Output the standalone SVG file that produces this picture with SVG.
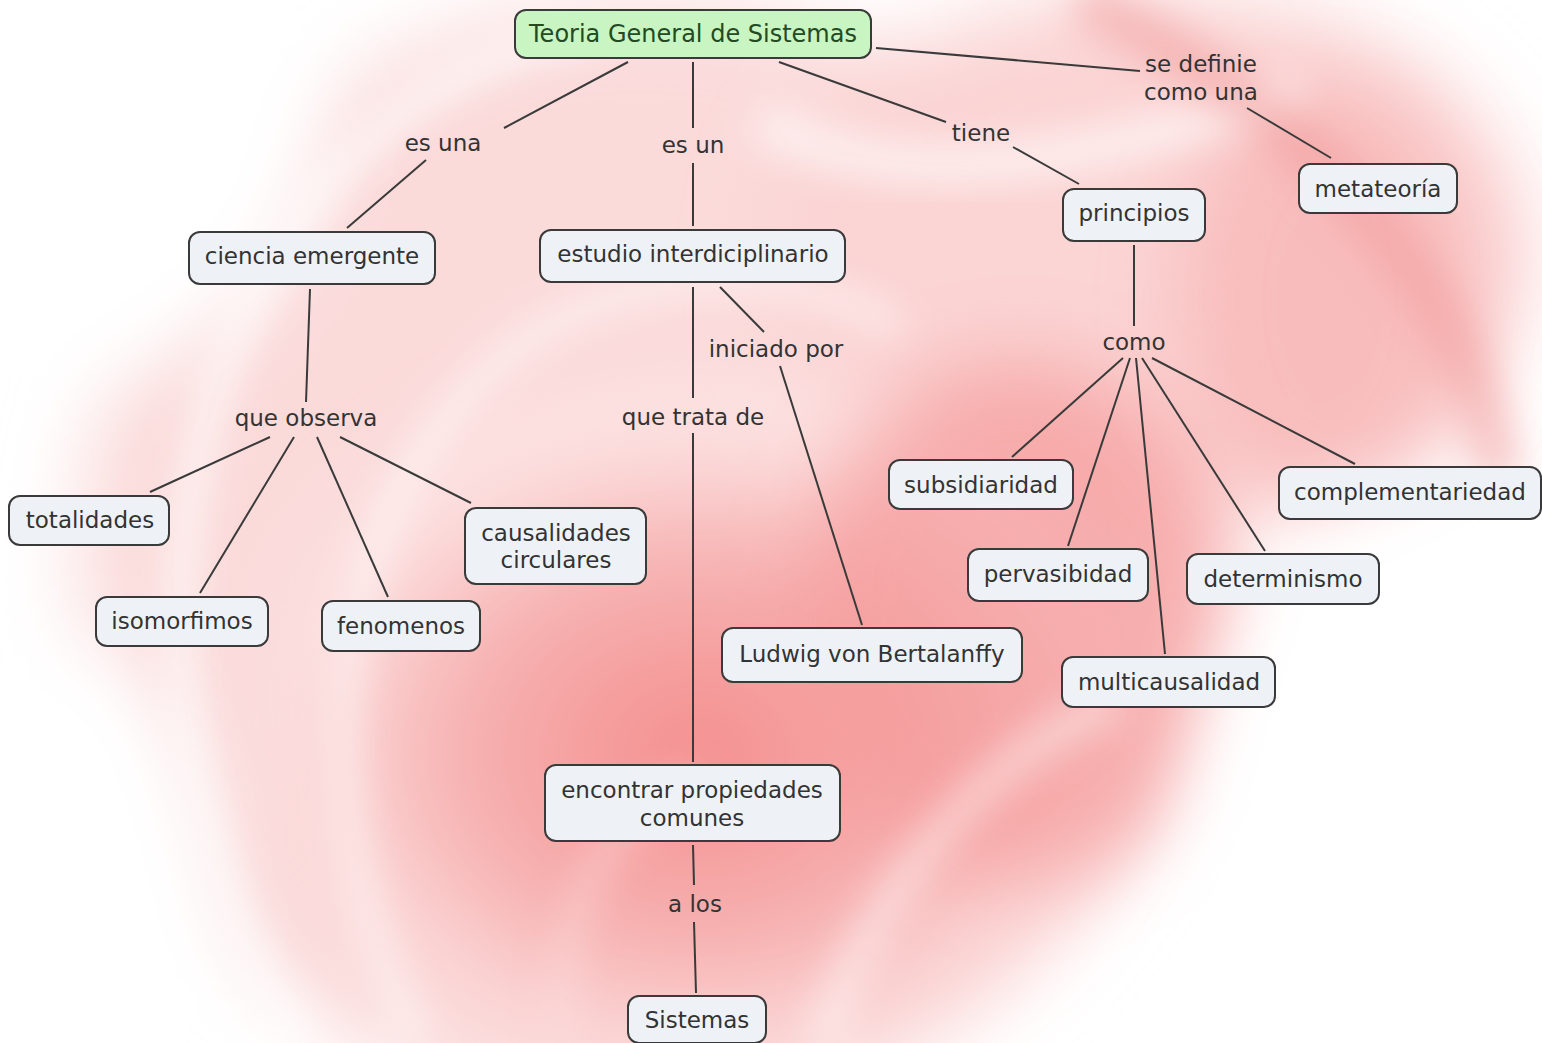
<svg xmlns="http://www.w3.org/2000/svg" width="1542" height="1043" viewBox="0 0 1542 1043">
<defs>
<filter id="blur40" x="-50%" y="-50%" width="200%" height="200%"><feGaussianBlur stdDeviation="40"/></filter>
<filter id="blur20" x="-50%" y="-50%" width="200%" height="200%"><feGaussianBlur stdDeviation="18"/></filter>
<radialGradient id="g1" cx="0.5" cy="0.55" r="0.5">
<stop offset="0" stop-color="#f48c8c"/>
<stop offset="0.6" stop-color="#f7b3b3"/>
<stop offset="1" stop-color="#fde6e6"/>
</radialGradient>
</defs>
<style>
.node rect{fill:#eef2f6;stroke:#3a3a3a;stroke-width:2}
.root rect{fill:#c9f5c2;stroke:#3a3a3a;stroke-width:2}
text{font-family:"DejaVu Sans",Verdana,sans-serif;font-size:23px;fill:#333;text-anchor:middle;dominant-baseline:central}
.root text{fill:#234a23;font-size:24px}
#connectors line{stroke:#3a3a3a;stroke-width:2}
</style>
<g id="background">
<rect width="1542" height="1043" fill="#ffffff"/>
<ellipse cx="640" cy="560" rx="560" ry="560" fill="#fbdada" filter="url(#blur40)"/>
<ellipse cx="1150" cy="250" rx="380" ry="260" fill="#fbd4d4" filter="url(#blur40)"/>
<ellipse cx="700" cy="720" rx="420" ry="330" fill="url(#g1)" filter="url(#blur40)"/>
<ellipse cx="1020" cy="620" rx="220" ry="260" fill="#f59a9a" opacity="0.7" filter="url(#blur40)"/>
<ellipse cx="1330" cy="300" rx="150" ry="220" fill="#f7adad" opacity="0.6" filter="url(#blur40)"/>
<ellipse cx="1460" cy="800" rx="260" ry="300" fill="#ffffff" filter="url(#blur40)"/>
<ellipse cx="60" cy="120" rx="260" ry="260" fill="#ffffff" filter="url(#blur40)"/>
<ellipse cx="60" cy="900" rx="150" ry="260" fill="#ffffff" filter="url(#blur40)"/>
<path d="M300 1043 C 140 800 130 420 330 180 C 420 80 520 40 600 30" fill="none" stroke="#ffffff" stroke-width="30" opacity="0.7" filter="url(#blur20)"/>
<path d="M420 1043 C 300 820 320 520 500 360 C 620 260 800 260 900 330" fill="none" stroke="#ffffff" stroke-width="26" opacity="0.55" filter="url(#blur20)"/>
<path d="M760 120 C 900 200 1100 160 1300 90" fill="none" stroke="#ffffff" stroke-width="40" opacity="0.6" filter="url(#blur20)"/>
<path d="M1080 0 C 1330 120 1470 300 1500 480" fill="none" stroke="#f19a9a" stroke-width="50" opacity="0.5" filter="url(#blur20)"/>
<path d="M820 1043 C 880 880 980 760 1120 700" fill="none" stroke="#ffffff" stroke-width="30" opacity="0.5" filter="url(#blur20)"/>
<path d="M560 1043 C 560 900 600 820 700 780" fill="none" stroke="#fde0e0" stroke-width="24" opacity="0.5" filter="url(#blur20)"/>
</g>
<g id="connectors">
<line x1="628" y1="62" x2="504" y2="128"/>
<line x1="426" y1="160" x2="347" y2="228"/>
<line x1="693" y1="62" x2="693" y2="128"/>
<line x1="693" y1="163" x2="693" y2="226"/>
<line x1="779" y1="62" x2="946" y2="122"/>
<line x1="1013" y1="147" x2="1079" y2="184"/>
<line x1="876" y1="48" x2="1140" y2="71"/>
<line x1="1247" y1="108" x2="1331" y2="158"/>
<line x1="310" y1="289" x2="306" y2="402"/>
<line x1="270" y1="437" x2="150" y2="492"/>
<line x1="294" y1="437" x2="200" y2="593"/>
<line x1="317" y1="437" x2="388" y2="597"/>
<line x1="340" y1="437" x2="471" y2="503"/>
<line x1="720" y1="287" x2="764" y2="332"/>
<line x1="780" y1="366" x2="862" y2="625"/>
<line x1="693" y1="287" x2="693" y2="398"/>
<line x1="693" y1="433" x2="693" y2="762"/>
<line x1="693" y1="845" x2="694" y2="885"/>
<line x1="694" y1="922" x2="696" y2="993"/>
<line x1="1134" y1="245" x2="1134" y2="326"/>
<line x1="1123" y1="358" x2="1012" y2="457"/>
<line x1="1130" y1="358" x2="1068" y2="546"/>
<line x1="1136" y1="358" x2="1165" y2="654"/>
<line x1="1142" y1="358" x2="1265" y2="551"/>
<line x1="1152" y1="358" x2="1355" y2="464"/>
</g>
<g id="link-labels">
<text x="443" y="143">es una</text>
<text x="693" y="145">es un</text>
<text x="981" y="133">tiene</text>
<text x="1201" y="64">se definie</text>
<text x="1201" y="92">como una</text>
<text x="306" y="418">que observa</text>
<text x="776" y="349">iniciado por</text>
<text x="693" y="417">que trata de</text>
<text x="1134" y="342">como</text>
<text x="695" y="904">a los</text>
</g>
<g id="n-teoria" class="root"><rect x="515" y="10" width="356" height="48" rx="11"/><text x="693" y="34">Teoria General de Sistemas</text></g>
<g id="n-ciencia" class="node"><rect x="189" y="232" width="246" height="52" rx="11"/><text x="312" y="256">ciencia emergente</text></g>
<g id="n-estudio" class="node"><rect x="540" y="230" width="305" height="52" rx="11"/><text x="693" y="254">estudio interdiciplinario</text></g>
<g id="n-principios" class="node"><rect x="1063" y="189" width="142" height="52" rx="11"/><text x="1134" y="213">principios</text></g>
<g id="n-metateoria" class="node"><rect x="1299" y="164" width="158" height="49" rx="11"/><text x="1378" y="189">metateoría</text></g>
<g id="n-totalidades" class="node"><rect x="9" y="496" width="160" height="49" rx="11"/><text x="90" y="520">totalidades</text></g>
<g id="n-isomorfimos" class="node"><rect x="96" y="597" width="172" height="49" rx="11"/><text x="182" y="621">isomorfimos</text></g>
<g id="n-fenomenos" class="node"><rect x="322" y="601" width="158" height="50" rx="11"/><text x="401" y="626">fenomenos</text></g>
<g id="n-causalidades" class="node"><rect x="465" y="508" width="181" height="76" rx="11"/><text x="556" y="533">causalidades</text><text x="556" y="560">circulares</text></g>
<g id="n-ludwig" class="node"><rect x="722" y="628" width="300" height="54" rx="11"/><text x="872" y="654">Ludwig von Bertalanffy</text></g>
<g id="n-encontrar" class="node"><rect x="545" y="765" width="295" height="76" rx="11"/><text x="692" y="790">encontrar propiedades</text><text x="692" y="818">comunes</text></g>
<g id="n-sistemas" class="node"><rect x="628" y="996" width="138" height="47" rx="11"/><text x="697" y="1020">Sistemas</text></g>
<g id="n-subsidiaridad" class="node"><rect x="889" y="460" width="184" height="49" rx="11"/><text x="981" y="485">subsidiaridad</text></g>
<g id="n-complementariedad" class="node"><rect x="1279" y="467" width="262" height="52" rx="11"/><text x="1410" y="492">complementariedad</text></g>
<g id="n-pervasibidad" class="node"><rect x="968" y="549" width="180" height="52" rx="11"/><text x="1058" y="574">pervasibidad</text></g>
<g id="n-determinismo" class="node"><rect x="1187" y="554" width="192" height="50" rx="11"/><text x="1283" y="579">determinismo</text></g>
<g id="n-multicausalidad" class="node"><rect x="1062" y="657" width="213" height="50" rx="11"/><text x="1169" y="682">multicausalidad</text></g>
</svg>
